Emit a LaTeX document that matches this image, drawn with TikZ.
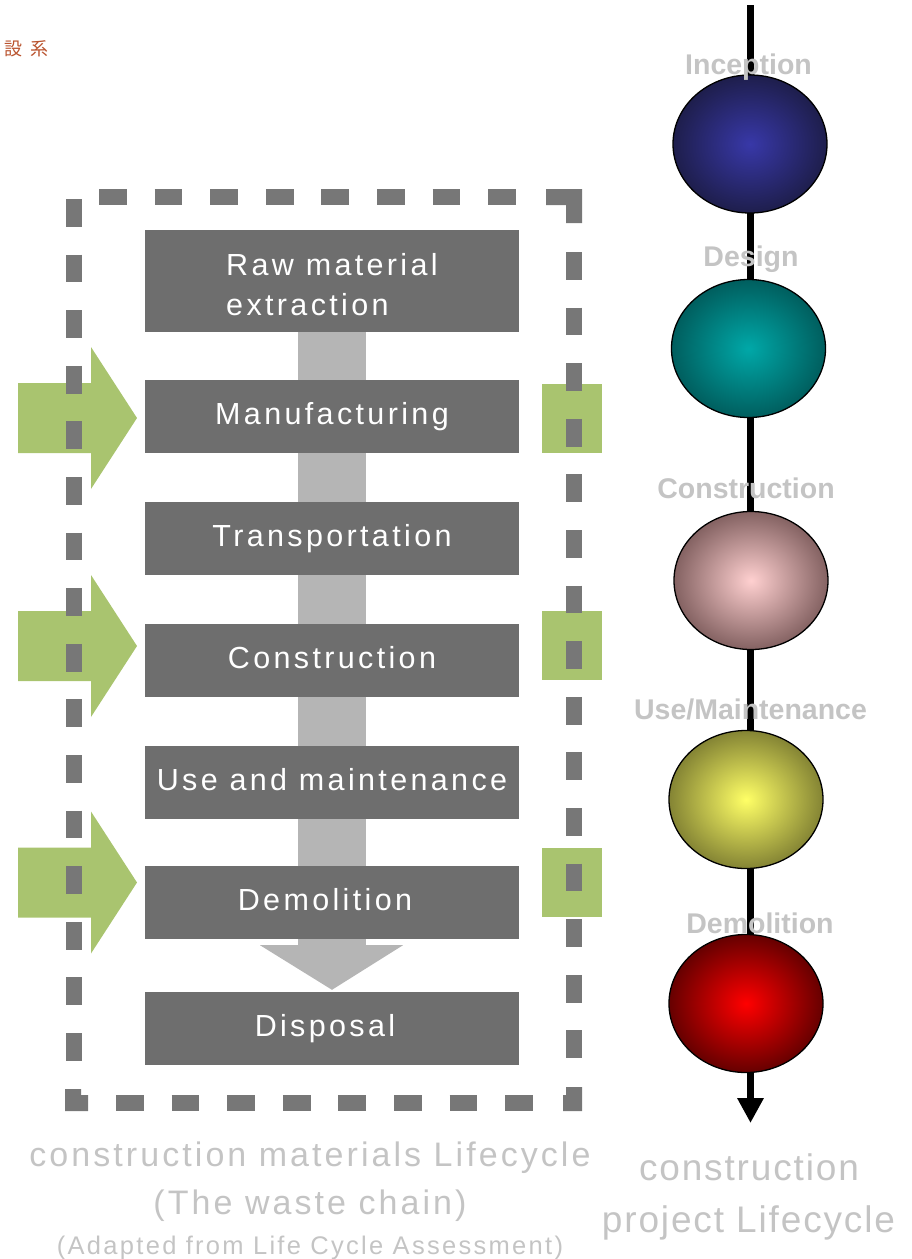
\documentclass[tikz,border=0pt]{standalone}
\usepackage{fontspec}
\setmainfont{Liberation Sans}
\newfontfamily\boxfont[LetterSpace=11]{Liberation Sans}
\newfontfamily\capfont[LetterSpace=9]{Liberation Sans}
\newfontfamily\rcapfont[LetterSpace=5]{Liberation Sans}
\newfontfamily\lblfont{Liberation Sans}
\newfontfamily\cjkfont{Noto Sans CJK JP}
\usetikzlibrary{shapes.geometric,arrows.meta,backgrounds,calc}
\definecolor{boxgray}{HTML}{6E6E6E}
\definecolor{bargray}{HTML}{B5B5B5}
\definecolor{dashgray}{HTML}{777777}
\definecolor{grn}{HTML}{A9C46F}
\definecolor{lblgray}{HTML}{C4C4C4}
\definecolor{capgray}{HTML}{C4C4C4}
\definecolor{cjkc}{HTML}{B9532E}
\definecolor{incI}{HTML}{3838A8}
\definecolor{incO}{HTML}{1E1E4C}
\definecolor{desI}{HTML}{00A8A8}
\definecolor{desO}{HTML}{005E5E}
\definecolor{conI}{HTML}{FFD0D0}
\definecolor{conO}{HTML}{846262}
\definecolor{useI}{HTML}{FFFF66}
\definecolor{useO}{HTML}{848434}
\definecolor{demI}{HTML}{FF0000}
\definecolor{demO}{HTML}{660000}
\begin{document}
\begin{tikzpicture}[x=1pt,y=-1pt,
  box/.style={fill=boxgray, text=white, minimum width=374pt, inner sep=0pt,
    font=\boxfont\fontsize{30.5}{40}\selectfont},
  oneline/.style={minimum height=73pt, text height=22pt, text depth=6pt},
  bdash/.style={draw=dashgray, line width=16pt, dash pattern=on 27.8pt off 27.8pt},
  dcorner/.style={fill=dashgray},
  grnfill/.style={fill=grn},
  ball/.style={ellipse, draw=black, line width=1.3pt, inner sep=0pt,
    minimum width=154pt, minimum height=138pt},
  lbl/.style={text=lblgray, anchor=base, inner sep=0pt,
    font=\lblfont\bfseries\fontsize{28.5}{30}\selectfont},
  captxt/.style={text=capgray, anchor=base, inner sep=0pt},
  garrow/.pic={\fill[grnfill] (-119,-35) -- (-46,-35) -- (-46,-71) -- (0,0) -- (-46,71) -- (-46,35) -- (-119,35) -- cycle;}
]
\useasboundingbox (0,0) rectangle (912,1259);

% top-left fragment
\node[text=cjkc, inner sep=0pt, font=\cjkfont\fontsize{18}{18}\selectfont] (tl) at (26.5,49) {設\hspace{8pt}系};

% green inflow arrows and outflow squares
\pic at (137,418) {garrow};
\pic at (137,646) {garrow};
\pic at (137,882.5) {garrow};
\fill[grnfill] (542,384) rectangle (602,453);
\fill[grnfill] (542,611) rectangle (602,680);
\fill[grnfill] (542,848) rectangle (602,917);

% boxes
\node[box, minimum height=102pt, align=left, text height=68pt, text depth=0pt] (raw) at (332,281) {Raw material\\extraction};
\node[box, oneline] (manu) at (332,416.5) {Manufacturing};
\node[box, oneline] (trans) at (332,538.5) {Transportation};
\node[box, oneline] (cons) at (332,660.5) {Construction};
\node[box, oneline] (use) at (332,782.5) {Use and maintenance};
\node[box, oneline] (demo) at (332,902.5) {Demolition\kern14pt\relax};
\node[box, oneline] (disp) at (332,1028.5) {Disposal\kern14pt\relax};

% flow bar behind boxes
\begin{scope}[on background layer]
\fill[bargray] ($(raw.south)+(-34,0)$) rectangle ($(demo.south)+(34,6)$);
\fill[bargray] ($(demo.south)+(-72,6)$) -- ($(demo.south)+(71,6)$) -- ($(disp.north)+(0,-2)$) -- cycle;
\end{scope}

% dashed frame
\draw[bdash] (99,197) -- (519,197);
\draw[bdash] (74,199) -- (74,1064);
\draw[bdash] (574,252) -- (574,1064);
\draw[bdash] (116,1103) -- (534,1103);
\fill[dcorner] (546,189) -- (582,189) -- (582,223) -- (566,223) -- (566,205) -- (546,205) -- cycle;
\fill[dcorner] (566,1087) -- (582,1087) -- (582,1111) -- (563,1111) -- (563,1095) -- (566,1095) -- cycle;
\fill[dcorner] (65,1089) -- (81,1089) -- (81,1095) -- (88,1095) -- (88,1111) -- (65,1111) -- cycle;

% project lifecycle
\coordinate (ltop) at (750.5,5);
\coordinate (lbot) at (750.5,1123);
\draw[line width=7pt, -{Triangle[width=25pt,length=25pt]}] (ltop) -- (lbot);
\node[ball, inner color=incI, outer color=incO] (binc) at (750,144) {};
\node[ball, inner color=desI, outer color=desO] (bdes) at (748.5,348.5) {};
\node[ball, inner color=conI, outer color=conO] (bcon) at (751,580.5) {};
\node[ball, inner color=useI, outer color=useO] (buse) at (746,799.5) {};
\node[ball, inner color=demI, outer color=demO] (bdem) at (746,1003.5) {};
\node[lbl] (linc) at (748.5,74) {Inception};
\node[lbl] (ldes) at (751,266) {Design};
\node[lbl] (lcon) at (746,498) {Construction};
\node[lbl] (luse) at (750.5,719) {Use/Maintenance};
\node[lbl] (ldem) at (760,933) {Demolition};

% captions
\node[captxt, font=\capfont\fontsize{34}{36}\selectfont] (c1) at (310,1166) {construction materials Lifecycle};
\node[captxt, font=\capfont\fontsize{34}{36}\selectfont] (c2) at (310,1214) {(The waste chain)};
\node[captxt, font=\capfont\fontsize{25.5}{28}\selectfont] (c3) at (310,1254) {(Adapted from Life Cycle Assessment)};
\node[captxt, font=\rcapfont\fontsize{37}{40}\selectfont] (c4) at (749,1180) {construction};
\node[captxt, font=\rcapfont\fontsize{37}{40}\selectfont] (c5) at (748.5,1232) {project Lifecycle};
\end{tikzpicture}
\end{document}
